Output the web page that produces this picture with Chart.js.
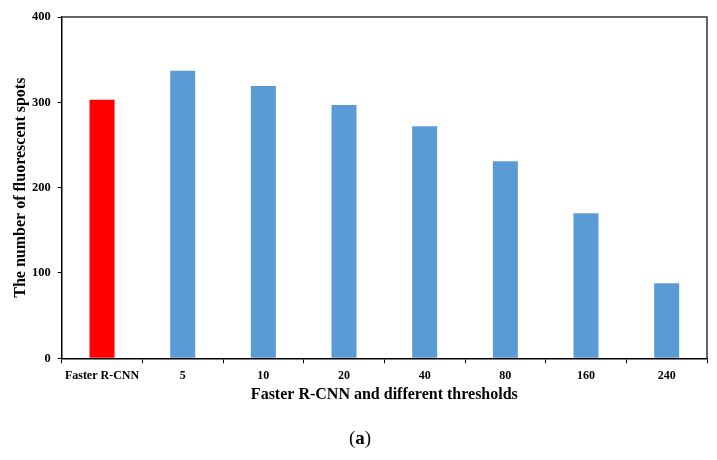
<!DOCTYPE html>
<html>
<head>
<meta charset="utf-8">
<script src="https://cdn.jsdelivr.net/npm/chart.js@4"></script>
<style>
html,body{margin:0;padding:0;background:#fff;}
#wrap{width:717px;height:460px;position:relative;}
</style>
</head>
<body>
<div id="wrap"><canvas id="c" width="717" height="460"></canvas></div>
<script>
const categories = ["Faster R-CNN", "5", "10", "20", "40", "80", "160", "240"];
const spotCounts = [303, 337, 319, 297, 272, 231, 170, 88];
const barColors = ["#FF0000", "#5B9BD5", "#5B9BD5", "#5B9BD5", "#5B9BD5", "#5B9BD5", "#5B9BD5", "#5B9BD5"];
const yTicks = [0, 100, 200, 300, 400];
const xTitle = "Faster R-CNN and different thresholds";
const yTitle = "The number of fluorescent spots";
const panelLabel = "a";

const serif = "'Liberation Serif', 'Times New Roman', serif";

const framePlugin = {
  id: 'frame',
  afterDraw(chart) {
    const {ctx, chartArea: a} = chart;
    ctx.save();
    ctx.strokeStyle = '#333';
    ctx.lineWidth = 1.5;
    ctx.beginPath();
    ctx.moveTo(a.left, a.top);
    ctx.lineTo(a.right, a.top);
    ctx.lineTo(a.right, a.bottom);
    ctx.stroke();
    // panel label "(a)"
    ctx.fillStyle = '#000';
    ctx.textBaseline = 'middle';
    const y = 439;
    const fN = "19px " + serif;
    const fB = "bold 19px " + serif;
    ctx.font = fN; const wp = ctx.measureText("(").width; const wq = ctx.measureText(")").width;
    ctx.font = fB; const wa = ctx.measureText(panelLabel).width;
    let x = 360 - (wp + wa + wq) / 2;
    ctx.font = fN; ctx.textAlign = 'left'; ctx.fillText("(", x, y); x += wp;
    ctx.font = fB; ctx.fillText(panelLabel, x, y); x += wa;
    ctx.font = fN; ctx.fillText(")", x, y);
    ctx.restore();
  }
};

new Chart(document.getElementById('c'), {
  type: 'bar',
  data: {
    labels: categories,
    datasets: [{
      data: spotCounts,
      backgroundColor: barColors,
      borderWidth: 0,
      barPercentage: 0.31,
      categoryPercentage: 1.0
    }]
  },
  options: {
    responsive: false,
    animation: false,
    layout: { padding: { left: 0, right: 10, top: 17, bottom: 41.7 } },
    plugins: { legend: { display: false }, tooltip: { enabled: false } },
    scales: {
      x: {
        offset: true,
        grid: { display: true, offset: true, drawOnChartArea: false, drawTicks: true, tickLength: 5, color: '#000', lineWidth: 1 },
        border: { display: true, color: '#000', width: 1.5 },
        ticks: { color: '#000', font: { family: serif, size: 12, weight: 'bold' }, padding: 5, maxRotation: 0, autoSkip: false },
        title: { display: true, text: xTitle, color: '#000', font: { family: serif, size: 16, weight: 'bold' }, padding: { top: 0, bottom: 14 } },
        afterFit(s) { s.height = 60; }
      },
      y: {
        min: 0, max: 400,
        afterBuildTicks(s) { s.ticks = yTicks.map(v => ({ value: v })); },
        grid: { display: true, drawOnChartArea: false, drawTicks: true, tickLength: 4, color: '#000', lineWidth: 1 },
        border: { display: true, color: '#000', width: 1.5 },
        ticks: { color: '#000', font: { family: serif, size: 12.5, weight: 'bold' }, padding: 7 },
        title: { display: true, text: yTitle, color: '#000', font: { family: serif, size: 16, weight: 'bold' }, padding: { top: 11, bottom: 0 } },
        afterFit(s) { s.width = 61.7; }
      }
    }
  },
  plugins: [framePlugin]
});
</script>
</body>
</html>
